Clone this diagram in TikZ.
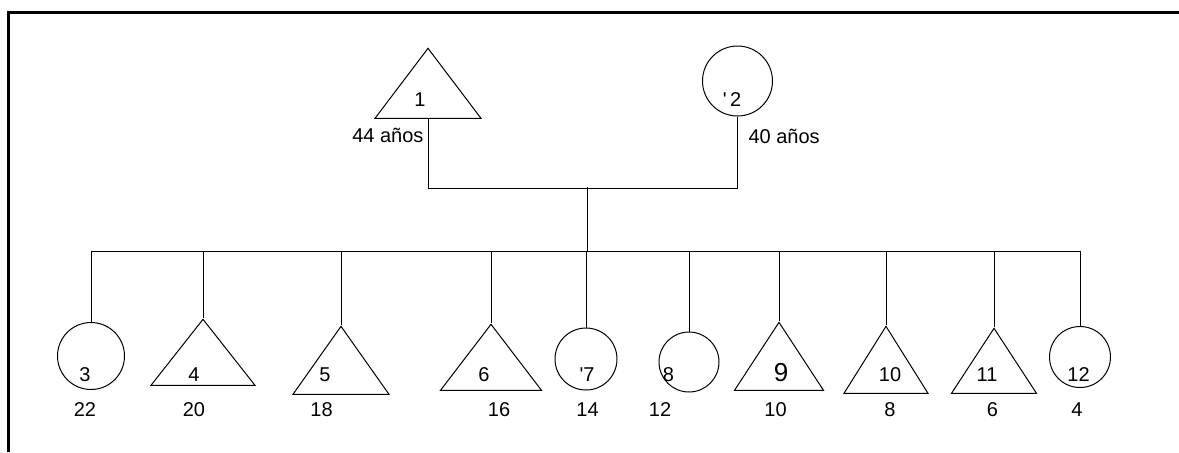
\documentclass[tikz,border=0pt]{standalone}
\usepackage{fontspec}
\setmainfont{Liberation Sans}
\usetikzlibrary{shapes.geometric, positioning}

\begin{document}
\begin{tikzpicture}[x=0.5pt, y=-0.5pt, line width=0.5pt,
        male/.style={draw, isosceles triangle, shape border rotate=90,
            isosceles triangle stretches, inner sep=0pt, anchor=apex},
        female/.style={draw, circle, inner sep=0pt},
        num/.style={inner sep=0pt, font=\fontsize{10}{12}\selectfont},
        frame/.style={line width=1.5pt}]
        \useasboundingbox (0,0) rectangle (1179,452);
        \draw[frame] (8,452) -- (8,12) -- (1179,12);

        % parents
        \node (m1) [male, minimum width=53pt, minimum height=35pt] at (428,47) {};
        \node (f2) [female, minimum size=35pt] at (737.5,81) {};
        \node (n1) [num] at (420,100) {1};
        \node (n2) [num] at (732,100) {\textquotesingle\,2};
        \node (a1) [num, anchor=east] at (424,135) {44 años};
        \node (a2) [num, anchor=west] at (748,136) {40 años};

        % children
        \node (c3)  [female, minimum size=33.5pt] at (91,356) {};
        \node (c4)  [male, minimum width=52pt, minimum height=33pt] at (203,318) {};
        \node (c5)  [male, minimum width=48pt, minimum height=34pt] at (341,325) {};
        \node (c6)  [male, minimum width=50.5pt, minimum height=33pt] at (491,323) {};
        \node (c7)  [female, minimum size=31pt] at (586,359) {};
        \node (c8)  [female, minimum size=30pt] at (689,362) {};
        \node (c9)  [male, minimum width=44.5pt, minimum height=34pt] at (779,321) {};
        \node (c10) [male, minimum width=42pt, minimum height=33.5pt] at (886,325) {};
        \node (c11) [male, minimum width=42.5pt, minimum height=32.5pt] at (994,327) {};
        \node (c12) [female, minimum size=30.5pt] at (1080,357) {};

        \node (n3)  [num] at (85,375) {3};
        \node (n4)  [num] at (194,375) {4};
        \node (n5)  [num] at (325,375) {5};
        \node (n6)  [num] at (484,375) {6};
        \node (n7)  [num] at (587,375) {\textquotesingle7};
        \node (n8)  [num] at (668.5,375) {8};
        \node (n9)  [num, font=\fontsize{13}{15}\selectfont] at (781,373) {9};
        \node (n10) [num] at (890,375) {10};
        \node (n11) [num] at (987,375) {11};
        \node (n12) [num] at (1078.5,375) {12};

        \node (a3)  [num] at (85,410) {22};
        \node (a4)  [num] at (194,410) {20};
        \node (a5)  [num] at (321.5,410) {18};
        \node (a6)  [num] at (499,410) {16};
        \node (a7)  [num] at (587.5,410) {14};
        \node (a8)  [num] at (660,410) {12};
        \node (a9)  [num] at (775.5,410) {10};
        \node (a10) [num] at (890,410) {8};
        \node (a11) [num] at (992.5,410) {6};
        \node (a12) [num] at (1077,410) {4};

        % union and sibling line
        \coordinate (union) at (587.5,187);
        \coordinate (sib) at (587.5,251);
        \draw (m1.lower side) -- ++(0,70) -| (f2.south);
        \draw (union) -- (sib);
        \draw (c3.north) -- (c3.north |- sib) -- (c12.north |- sib) -- (c12.north);
        \foreach \c in {c4.apex, c5.apex, c6.apex, c7.north, c8.north, c9.apex, c10.apex, c11.apex}
            \draw (\c) -- (\c |- sib);
\end{tikzpicture}
\end{document}
